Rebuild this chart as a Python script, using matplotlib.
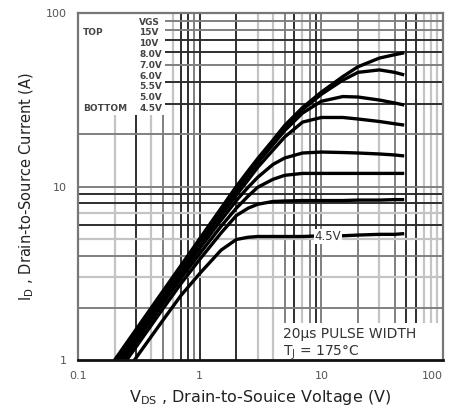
import matplotlib
matplotlib.use("Agg")
import matplotlib.pyplot as plt
from matplotlib.patches import Rectangle

plt.rcParams['font.family'] = ['DejaVu Sans']
plt.rcParams['mathtext.default'] = 'regular'

# ---- data ----
vds = [0.15, 0.2, 0.3, 0.5, 0.7, 1, 1.5, 2, 2.5, 3, 4, 5, 7, 10, 15, 20, 30, 40, 48]
id_15v = [0.75, 1.0, 1.5, 2.5, 3.5, 5.0, 7.5, 10.0, 12.3, 14.5, 18.5, 22.5, 28.5, 35, 43, 49, 55, 57.5, 59]
id_10v = [0.73, 0.98, 1.46, 2.44, 3.4, 4.9, 7.3, 9.7, 12.0, 14.2, 18.0, 22.0, 27.8, 34, 41, 45.5, 47, 45.5, 44]
id_8v = [0.71, 0.95, 1.43, 2.38, 3.33, 4.76, 7.1, 9.4, 11.6, 13.7, 17.4, 21.0, 26.5, 31, 33, 32.8, 31.5, 30.3, 29.5]
id_7v = [0.69, 0.92, 1.38, 2.3, 3.22, 4.6, 6.8, 8.9, 10.9, 12.9, 16.2, 19.3, 23.5, 25, 25, 24.5, 23.7, 23.0, 22.6]
id_6v = [0.67, 0.89, 1.33, 2.22, 3.1, 4.4, 6.4, 8.3, 9.9, 11.3, 13.4, 14.6, 15.6, 15.8, 15.7, 15.6, 15.4, 15.2, 15.0]
id_55v = [0.64, 0.85, 1.27, 2.12, 2.95, 4.1, 5.9, 7.5, 8.8, 9.9, 11.0, 11.6, 11.9, 11.9, 11.9, 11.9, 11.9, 11.9, 11.9]
id_5v = [0.6, 0.8, 1.19, 1.98, 2.75, 3.8, 5.4, 6.8, 7.5, 7.9, 8.2, 8.25, 8.3, 8.3, 8.3, 8.35, 8.35, 8.4, 8.4]
id_45v = [0.52, 0.7, 1.03, 1.7, 2.35, 3.15, 4.3, 4.95, 5.1, 5.15, 5.15, 5.15, 5.15, 5.2, 5.2, 5.25, 5.3, 5.3, 5.35]
series = [id_15v, id_10v, id_8v, id_7v, id_6v, id_55v, id_5v, id_45v]
legend_labels = ["VGS", "15V", "10V", "8.0V", "7.0V", "6.0V", "5.5V", "5.0V", "4.5V"]
x_ticks = [0.1, 1, 10, 100]
x_ticklabels = ["0.1", "1", "10", "100"]
y_ticks = [1, 10, 100]
y_ticklabels = ["1", "10", "100"]

# ---- figure ----
fig = plt.figure(figsize=(4.52, 4.12), dpi=100)
ax = fig.add_axes([0.1726, 0.1262, 0.8075, 0.8422])
ax.set_xscale('log')
ax.set_yscale('log')
ax.set_xlim(0.1, 100)
ax.set_ylim(1, 100)

DARK, MID, LIGHT = '#2e2e2e', '#808080', '#c4c4c4'
vgrid = {
    0.2: LIGHT, 0.3: DARK, 0.4: LIGHT, 0.5: MID, 0.6: LIGHT, 0.7: DARK, 0.8: DARK, 0.9: MID, 1: DARK,
    2: DARK, 3: LIGHT, 4: LIGHT, 5: MID, 6: DARK, 7: LIGHT, 8: MID, 9: DARK, 10: MID,
    20: MID, 30: LIGHT, 40: MID, 50: DARK, 60: DARK, 70: LIGHT, 80: LIGHT, 90: LIGHT,
}
hgrid = {
    2: MID, 3: LIGHT, 4: MID, 5: LIGHT, 6: DARK, 7: LIGHT, 8: DARK, 9: DARK, 10: MID,
    20: MID, 30: DARK, 40: DARK, 50: MID, 60: DARK, 70: DARK, 80: MID, 90: MID,
}
for v, c in vgrid.items():
    ax.axvline(v, color=c, lw=1.4 if c != LIGHT else 1.6, zorder=1)
for v, c in hgrid.items():
    ax.axhline(v, color=c, lw=1.4 if c != LIGHT else 1.6, zorder=1)

# white boxes behind annotations
ax.add_patch(Rectangle((0, 0.706), 0.238, 0.3, transform=ax.transAxes,
                       facecolor='white', edgecolor='none', zorder=2))
ax.add_patch(Rectangle((0.556, 0), 0.45, 0.107, transform=ax.transAxes,
                       facecolor='white', edgecolor='none', zorder=2))

for s in series:
    ax.plot(vds, s, color='black', lw=2.4, solid_capstyle='butt', zorder=3)

# legend-like labels
ys = [0.974, 0.943, 0.912, 0.881, 0.850, 0.818, 0.787, 0.756, 0.725]
for lab, yy in zip(legend_labels, ys):
    ax.text(0.168, yy, lab, transform=ax.transAxes, fontsize=6.5, fontweight='bold',
            color='#444444', va='center', ha='left', zorder=4)
ax.text(0.013, 0.943, "TOP", transform=ax.transAxes, fontsize=6.5, fontweight='bold',
        color='#444444', va='center', ha='left', zorder=4)
ax.text(0.013, 0.725, "BOTTOM", transform=ax.transAxes, fontsize=6.5, fontweight='bold',
        color='#444444', va='center', ha='left', zorder=4)

ax.text(11.3, 5.15, "4.5V", fontsize=8.5, color='#333333', ha='center', va='center', zorder=4,
        bbox=dict(facecolor='white', edgecolor='none', pad=0.5))

ax.text(0.562, 0.076, "20\u00b5s PULSE WIDTH", transform=ax.transAxes, fontsize=10,
        color='#333333', ha='left', va='center', zorder=4)
ax.text(0.562, 0.02, "T$_{J}$ = 175\u00b0C",
        transform=ax.transAxes, fontsize=10, color='#333333', ha='left', va='center', zorder=4)

# spines
for side in ['top', 'right', 'left']:
    ax.spines[side].set_color('#777777')
    ax.spines[side].set_linewidth(1.6)
ax.spines['bottom'].set_color('#111111')
ax.spines['bottom'].set_linewidth(2.0)
for sp in ax.spines.values():
    sp.set_zorder(5)

ax.set_xticks(x_ticks)
ax.set_xticklabels(x_ticklabels)
ax.set_yticks(y_ticks)
ax.set_yticklabels(y_ticklabels)
ax.minorticks_off()
ax.tick_params(length=0, labelsize=8, labelcolor='#555555', pad=8)
xlabels = ax.get_xticklabels()
xlabels[-1].set_horizontalalignment('right')

ax.set_xlabel("V$_{DS}$ , Drain-to-Souice Voltage (V)", fontsize=11.5, color='#222222', labelpad=5)
ax.set_ylabel("I$_{D}$ , Drain-to-Source Current (A)", fontsize=10.5, color='#222222', labelpad=7)

fig.savefig("out.png", dpi=100)
